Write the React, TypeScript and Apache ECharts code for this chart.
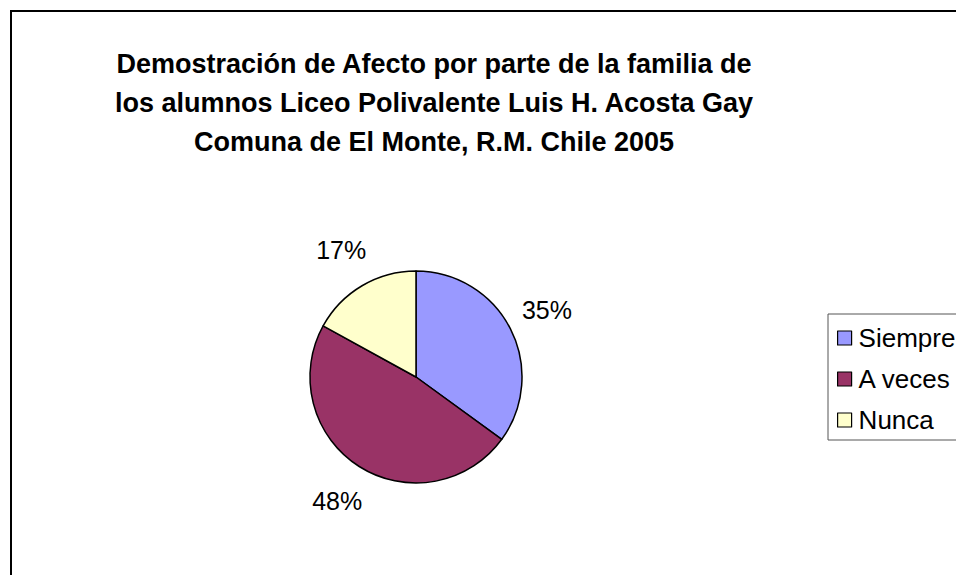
import React, { useEffect, useRef } from "react";
import * as echarts from "echarts";

const categories = ["Siempre", "A veces", "Nunca"];
const values = [35, 48, 17];
const titleLines = [
  "Demostración de Afecto por parte de la familia de",
  "los alumnos Liceo Polivalente Luis H. Acosta Gay",
  "Comuna de El Monte, R.M. Chile 2005",
];
const palette = ["#9999FF", "#993366", "#FFFFCC"];

const FONT = "'Liberation Sans', Arial, Helvetica, sans-serif";

export default function App() {
  const ref = useRef<HTMLDivElement>(null);
  useEffect(() => {
    if (!ref.current) return;
    const chart = echarts.init(ref.current, null, { renderer: "svg" });
    const data = categories.map((name, i) => ({
      name,
      value: values[i],
      itemStyle: { color: palette[i] },
    }));
    chart.setOption({
      animation: false,
      backgroundColor: "#ffffff",
      title: {
        text: titleLines.join("\n"),
        left: 434,
        top: 44,
        padding: 0,
        textAlign: "center",
        textStyle: {
          fontFamily: FONT,
          fontSize: 27,
          fontWeight: "bold",
          color: "#000",
          lineHeight: 39,
        },
      },
      legend: {
        data: categories,
        orient: "vertical",
        left: 828,
        top: 314,
        padding: [11, 60, 7, 9],
        itemGap: 15,
        itemWidth: 14,
        itemHeight: 14,
        icon: "rect",
        borderColor: "#555",
        borderWidth: 1,
        selectedMode: false,
        itemStyle: { borderColor: "#000", borderWidth: 1.2 },
        textStyle: {
          fontFamily: FONT,
          fontSize: 26,
          color: "#000",
          lineHeight: 26,
          padding: [0, 0, 0, 2],
        },
      },
      graphic: [
        {
          type: "rect",
          shape: { x: 11, y: 11, width: 1000, height: 700 },
          style: { fill: "none", stroke: "#000", lineWidth: 2 },
          silent: true,
        },
      ],
      series: [
        {
          type: "pie",
          center: [416, 377],
          radius: [0, 106],
          startAngle: 90,
          clockwise: true,
          silent: true,
          label: { show: false },
          labelLine: { show: false },
          itemStyle: { borderColor: "#000", borderWidth: 1.5 },
          data,
        },
        {
          type: "pie",
          center: [416, 377],
          radius: [138, 150],
          startAngle: 90,
          clockwise: true,
          silent: true,
          itemStyle: { color: "transparent", borderWidth: 0 },
          label: {
            show: true,
            position: "inside",
            fontFamily: FONT,
            fontSize: 25,
            color: "#000",
            formatter: (p: any) => Math.round(p.percent) + "%",
          },
          labelLine: { show: false },
          data: categories.map((name, i) => ({ name, value: values[i] })),
        },
      ],
    });
    return () => chart.dispose();
  }, []);
  return (
    <div
      ref={ref}
      style={{ position: "fixed", left: 0, top: 0, width: 956, height: 575 }}
    />
  );
}
